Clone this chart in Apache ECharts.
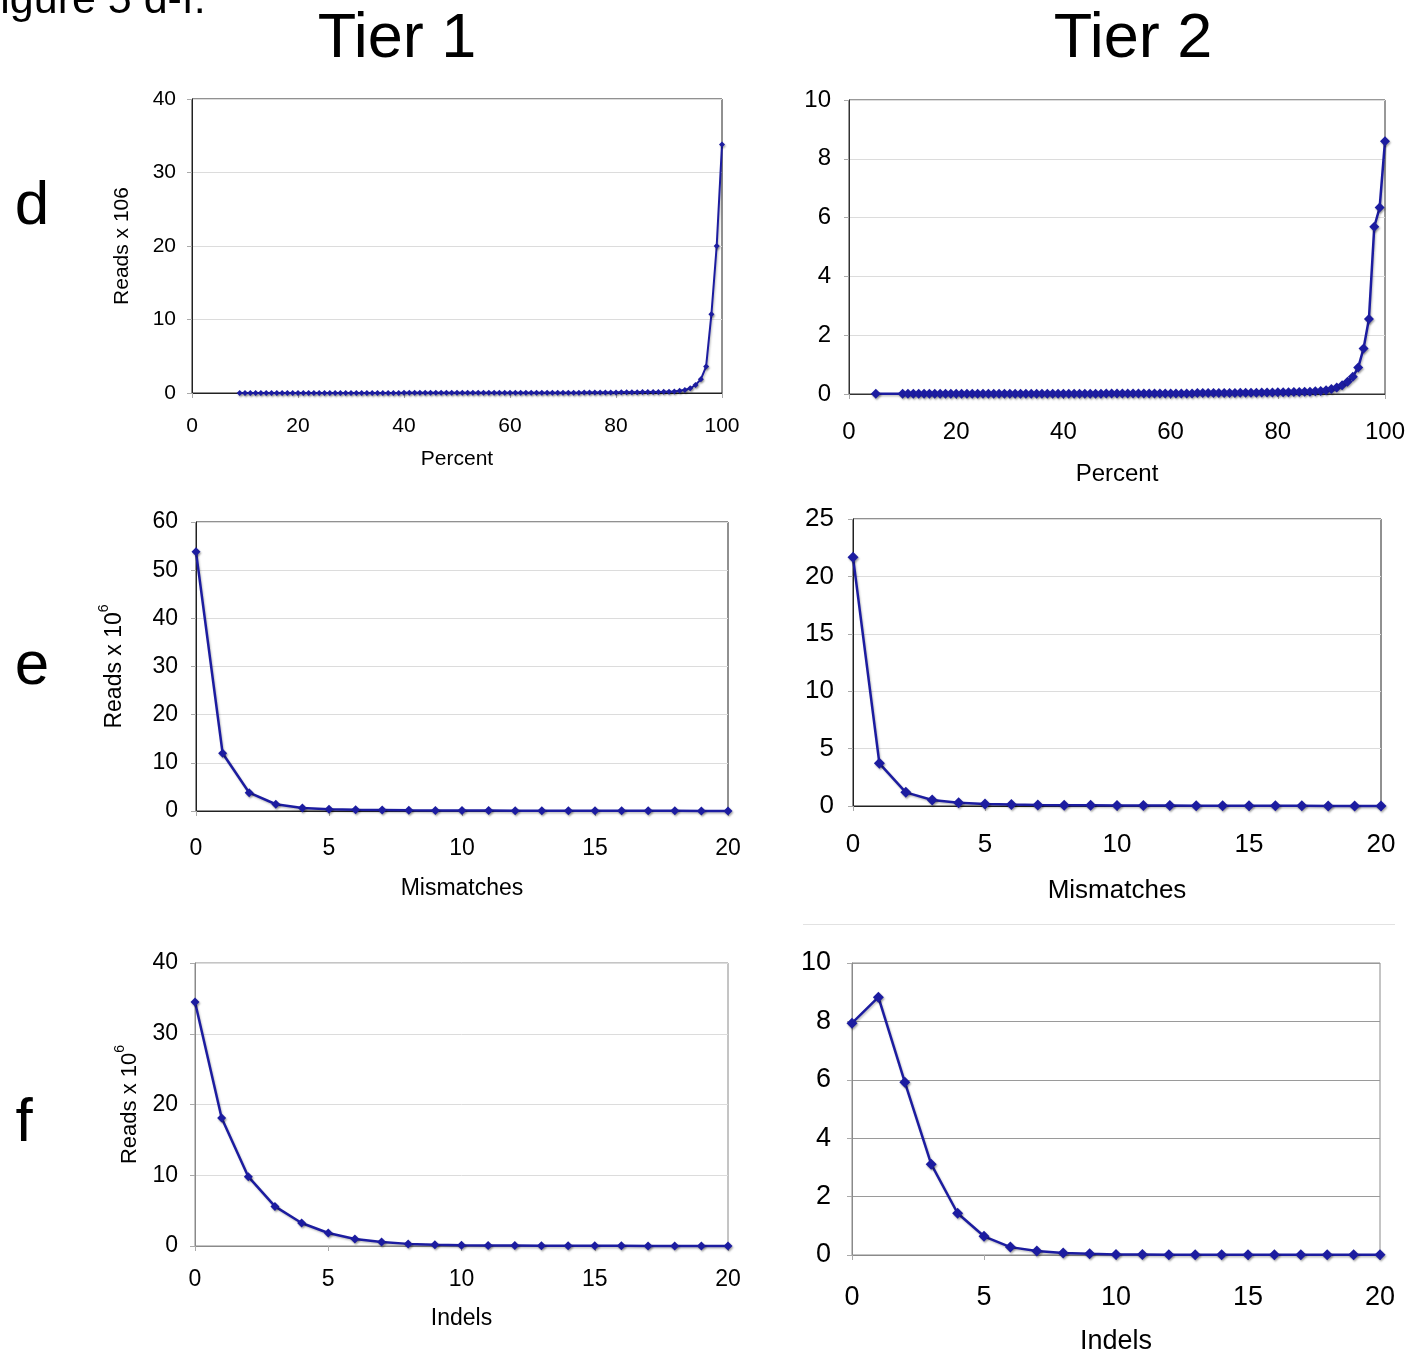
<!DOCTYPE html>
<html>
<head>
<meta charset="utf-8">
<script src="https://cdn.jsdelivr.net/npm/echarts@6/dist/echarts.min.js"></script>
<style>
html,body{margin:0;padding:0;background:#fff;}
#c{width:1414px;height:1356px;}
</style>
</head>
<body>
<div id="c"></div>
<script>
// ---------- DATA ----------
// Tier 1, panel d (Percent vs Reads x 10^6)
const t1dX = [9,10,11,12,13,14,15,16,17,18,19,20,21,22,23,24,25,26,27,28,29,30,31,32,33,34,35,36,37,38,39,40,
  41,42,43,44,45,46,47,48,49,50,51,52,53,54,55,56,57,58,59,60,61,62,63,64,65,66,67,68,69,70,
  71,72,73,74,75,76,77,78,79,80,81,82,83,84,85,86,87,88,89,90,91,92,93,94,95,96,97,98,99,100];
const t1dY = [0.01,0.01,0.01,0.01,0.01,0.01,0.01,0.01,0.01,0.01,0.01,0.01,0.01,0.01,0.01,0.01,0.01,0.01,0.01,0.01,0.01,0.01,0.01,0.01,0.01,0.01,0.01,0.01,0.01,0.01,0.01,0.02,
  0.02,0.02,0.02,0.02,0.02,0.02,0.02,0.02,0.02,0.02,0.02,0.02,0.02,0.02,0.02,0.02,0.02,0.03,0.03,0.03,0.03,0.03,0.03,0.03,0.04,0.04,0.04,0.04,0.04,0.05,
  0.05,0.05,0.05,0.06,0.06,0.06,0.07,0.07,0.08,0.08,0.09,0.1,0.1,0.11,0.12,0.13,0.14,0.15,0.16,0.18,0.22,0.3,0.4,0.64,1.09,1.86,3.6,10.7,20.0,33.8];
// Tier 2, panel d
const t2dX = [5,10,11,12,13,14,15,16,17,18,19,20,21,22,23,24,25,26,27,28,29,30,31,32,33,34,35,36,37,38,39,40,
  41,42,43,44,45,46,47,48,49,50,51,52,53,54,55,56,57,58,59,60,61,62,63,64,65,66,67,68,69,70,
  71,72,73,74,75,76,77,78,79,80,81,82,83,84,85,86,87,88,89,90,91,92,93,94,95,96,97,98,99,100];
const t2dY = [0.01,0.01,0.01,0.01,0.01,0.01,0.01,0.01,0.01,0.01,0.01,0.01,0.01,0.01,0.01,0.01,0.01,0.01,0.01,0.01,0.01,0.01,0.01,0.01,0.01,0.01,0.01,0.01,0.01,0.01,0.01,0.01,
  0.01,0.01,0.01,0.01,0.01,0.01,0.01,0.02,0.02,0.02,0.02,0.02,0.02,0.02,0.02,0.02,0.02,0.02,0.02,0.02,0.02,0.02,0.02,0.02,0.03,0.03,0.03,0.03,0.03,0.03,
  0.03,0.03,0.04,0.04,0.04,0.04,0.05,0.05,0.05,0.06,0.06,0.06,0.07,0.07,0.08,0.08,0.09,0.1,0.13,0.17,0.22,0.3,0.42,0.59,0.9,1.55,2.55,5.69,6.34,8.6];
// Panels e and f share x categories 0..20
const countX = [0,1,2,3,4,5,6,7,8,9,10,11,12,13,14,15,16,17,18,19,20];
const t1eY = [53.8,12.0,3.8,1.4,0.6,0.35,0.25,0.2,0.15,0.12,0.1,0.08,0.07,0.06,0.05,0.04,0.04,0.03,0.03,0.02,0.02];
const t2eY = [21.66,3.72,1.19,0.52,0.29,0.17,0.12,0.09,0.07,0.06,0.05,0.04,0.04,0.03,0.03,0.02,0.02,0.02,0.01,0.01,0.01];
const t1fY = [34.5,18.1,9.8,5.6,3.25,1.84,1.0,0.55,0.3,0.18,0.12,0.08,0.06,0.04,0.03,0.02,0.02,0.01,0.01,0.01,0.01];
const t2fY = [7.94,8.83,5.92,3.11,1.43,0.64,0.27,0.14,0.07,0.04,0.02,0.02,0.01,0.01,0.01,0.01,0.01,0.01,0.01,0.01,0.01];

// ---------- LAYOUT / STYLE ----------
const FONT = 'Liberation Sans, Arial, sans-serif';
const LINE = '#1c1ca0';
const panels = [
  {x:t1dX, y:t1dY, grid:[192,99,530,294], xmax:100, xint:20, ymax:40, yint:10, fs:21, xname:'Percent', xnameGap:56, xlabM:23, ylabM:16,
   yname:'Reads x 106', ynameGap:59, ynfs:21, sup:false, sym:6, lw:2, frame:'#222', split:'#dcdcdc'},
  {x:t2dX, y:t2dY, grid:[849,100,536,294], xmax:100, xint:20, ymax:10, yint:2, fs:24, xname:'Percent', xnameGap:68, xlabM:26, ylabM:18,
   yname:null, sym:10, lw:2.5, frame:'#333', split:'#dcdcdc'},
  {x:countX, y:t1eY, grid:[196,522,532,289], xmax:20, xint:5, ymax:60, yint:10, fs:23, xname:'Mismatches', xnameGap:66, xlabM:26, ylabM:18,
   yname:'Reads x 10', ynameGap:70, ynfs:23, sup:true, sym:9, lw:2.5, frame:'#222', split:'#dcdcdc'},
  {x:countX, y:t2eY, grid:[853,519,528,287], xmax:20, xint:5, ymax:25, yint:5, fs:26, xname:'Mismatches', xnameGap:72, xlabM:26, ylabM:19,
   yname:null, sym:11, lw:2.5, frame:'#222', split:'#dcdcdc'},
  {x:countX, y:t1fY, grid:[195,963,533,283], xmax:20, xint:5, ymax:40, yint:10, fs:23, xname:'Indels', xnameGap:61, xlabM:22, ylabM:17,
   yname:'Reads x 10', ynameGap:54, ynfs:22, sup:true, sym:9, lw:2.5, frame:'#8a8a8a', split:'#dcdcdc'},
  {x:countX, y:t2fY, grid:[852,963,528,293], xmax:20, xint:5, ymax:10, yint:2, fs:27, xname:'Indels', xnameGap:73, xlabM:29, ylabM:21,
   yname:null, sym:11, lw:2.5, frame:'#8a8a8a', split:'#9a9a9a'}
];

const grids = [], xAxes = [], yAxes = [], series = [];
panels.forEach((p, i) => {
  grids.push({left:p.grid[0], top:p.grid[1], width:p.grid[2], height:p.grid[3],
    show:true, borderColor:p.frame, borderWidth:1, backgroundColor:'transparent', containLabel:false});
  xAxes.push({type:'value', gridIndex:i, min:0, max:p.xmax, interval:p.xint,
    axisLine:{show:true, onZero:false, lineStyle:{color:p.frame, width:1}},
    axisTick:{show:true, length:5, lineStyle:{color:'#aaa'}},
    splitLine:{show:false},
    axisLabel:{fontFamily:FONT, fontSize:p.fs, color:'#000', margin:p.xlabM},
    name:p.xname, nameLocation:'middle', nameGap:p.xnameGap,
    nameTextStyle:{fontFamily:FONT, fontSize:p.fs, color:'#000'}});
  const ya = {type:'value', gridIndex:i, min:0, max:p.ymax, interval:p.yint,
    axisLine:{show:true, lineStyle:{color:p.frame, width:1}},
    axisTick:{show:true, length:5, lineStyle:{color:'#aaa'}},
    splitLine:{show:true, lineStyle:{color:p.split, width:1}},
    axisLabel:{fontFamily:FONT, fontSize:p.fs, color:'#000', margin:p.ylabM}};
  if (p.yname) {
    ya.nameLocation = 'middle';
    ya.nameGap = p.ynameGap;
    ya.nameRotate = 90;
    if (p.sup) {
      ya.name = '{a|' + p.yname + '}{s|6}';
      ya.nameTextStyle = {fontFamily:FONT, color:'#000', rich:{
        a:{fontFamily:FONT, fontSize:p.ynfs, color:'#000', lineHeight:p.ynfs+6, verticalAlign:'bottom'},
        s:{fontFamily:FONT, fontSize:Math.round(p.ynfs*0.62), color:'#000', lineHeight:p.ynfs+6, verticalAlign:'top'}}};
    } else {
      ya.name = p.yname;
      ya.nameTextStyle = {fontFamily:FONT, fontSize:p.ynfs, color:'#000'};
    }
  }
  yAxes.push(ya);
  series.push({type:'line', xAxisIndex:i, yAxisIndex:i, clip:false,
    data:p.x.map((v, k) => [v, p.y[k]]),
    symbol:'diamond', symbolSize:p.sym, showSymbol:true,
    lineStyle:{color:LINE, width:p.lw, shadowColor:'rgba(0,0,0,0.25)', shadowBlur:2, shadowOffsetX:1, shadowOffsetY:1.5},
    itemStyle:{color:LINE, borderColor:LINE, borderWidth:0, shadowColor:'rgba(0,0,0,0.35)', shadowBlur:2, shadowOffsetX:1, shadowOffsetY:1.5},
    emphasis:{disabled:true}, animation:false});
});

const texts = [
  {txt:'Figure 5 d-f.', x:-26, y:23, size:43, align:'left', v:'bottom'},
  {txt:'Tier 1', x:397, y:40, size:63, align:'center', v:'middle'},
  {txt:'Tier 2', x:1133, y:40, size:63, align:'center', v:'middle'},
  {txt:'d', x:32, y:207, size:62, align:'center', v:'middle'},
  {txt:'e', x:32, y:667, size:62, align:'center', v:'middle'},
  {txt:'f', x:24, y:1124, size:62, align:'center', v:'middle'}
];
const graphics = texts.map(t => ({type:'text', x:t.x, y:t.y, silent:true,
  style:{text:t.txt, fontFamily:FONT, fontSize:t.size, fill:'#000', textAlign:t.align, textVerticalAlign:t.v}}));
graphics.push({type:'line', silent:true, shape:{x1:803, y1:924.5, x2:1395, y2:924.5}, style:{stroke:'#e2e2e2', lineWidth:1}});

const chart = echarts.init(document.getElementById('c'), null, {renderer:'canvas'});
chart.setOption({
  animation:false,
  backgroundColor:'#fff',
  grid:grids, xAxis:xAxes, yAxis:yAxes, series:series,
  graphic:graphics
});
</script>
</body>
</html>
